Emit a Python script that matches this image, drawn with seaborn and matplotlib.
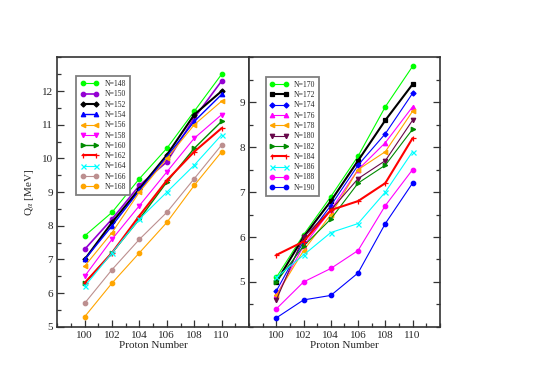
import numpy as np
import pandas as pd
import matplotlib
matplotlib.use('Agg')
import matplotlib.pyplot as plt
from matplotlib.ticker import MultipleLocator
import seaborn as sns

# proton numbers on the x axis
protons = [100, 102, 104, 106, 108, 110]

# left panel: N = 148 ... 168
left_labels = ['N=148', 'N=150', 'N=152', 'N=154', 'N=156', 'N=158',
               'N=160', 'N=162', 'N=164', 'N=166', 'N=168']
q148 = [7.7, 8.4, 9.4, 10.3, 11.4, 12.5]
q150 = [7.3, 8.2, 9.2, 9.9, 11.2, 12.3]
q152 = [7.0, 8.1, 9.1, 10.1, 11.3, 12.0]
q154 = [7.0, 8.0, 9.05, 10.05, 11.1, 11.9]
q156 = [6.8, 7.8, 9.0, 10.0, 11.0, 11.7]
q158 = [6.5, 7.6, 8.6, 9.6, 10.6, 11.3]
q160 = [6.3, 7.2, 8.2, 9.3, 10.3, 11.1]
q162 = [6.3, 7.2, 8.3, 9.35, 10.2, 10.9]
q164 = [6.2, 7.2, 8.2, 9.0, 9.8, 10.7]
q166 = [5.7, 6.7, 7.6, 8.4, 9.4, 10.4]
q168 = [5.3, 6.3, 7.2, 8.1, 9.2, 10.2]
left_values = [q148, q150, q152, q154, q156, q158, q160, q162, q164, q166, q168]

# right panel: N = 170 ... 190
right_labels = ['N=170', 'N=172', 'N=174', 'N=176', 'N=178', 'N=180',
                'N=182', 'N=184', 'N=186', 'N=188', 'N=190']
q170 = [5.1, 6.05, 6.9, 7.8, 8.9, 9.8]
q172 = [5.0, 6.0, 6.8, 7.7, 8.6, 9.4]
q174 = [4.8, 5.9, 6.7, 7.6, 8.3, 9.2]
q176 = [4.7, 5.8, 6.6, 7.5, 8.1, 8.9]
q178 = [4.7, 5.7, 6.5, 7.5, 7.9, 8.8]
q180 = [4.6, 6.0, 6.6, 7.3, 7.7, 8.6]
q182 = [5.0, 5.8, 6.4, 7.2, 7.6, 8.4]
q184 = [5.6, 5.9, 6.6, 6.8, 7.2, 8.2]
q186 = [5.1, 5.6, 6.1, 6.3, 7.0, 7.9]
q188 = [4.4, 5.0, 5.3, 5.7, 6.7, 7.5]
q190 = [4.2, 4.6, 4.7, 5.2, 6.3, 7.2]
right_values = [q170, q172, q174, q176, q178, q180, q182, q184, q186, q188, q190]

# styles (xmgrace-like)
left_colors = ['#00ff00', '#9400d3', '#000000', '#0000ff', '#ffa500', '#ff00ff',
               '#008b00', '#ff0000', '#00ffff', '#bc8f8f', '#ffa500']
left_markers = ['o', 'o', 'D', '^', '<', 'v', '>', '+', 'x', 'o', 'o']
left_widths = [0.8, 1.2, 1.5, 1.0, 0.8, 0.8, 1.0, 1.5, 0.8, 0.8, 0.8]

right_colors = ['#00ff00', '#000000', '#0000ff', '#ff00ff', '#ffa500', '#67074a',
                '#008b00', '#ff0000', '#00ffff', '#ff00ff', '#0000ff']
right_markers = ['o', 's', 'D', '^', '<', 'v', '>', '+', 'x', 'o', 'o']
right_widths = [0.8, 1.5, 0.8, 0.8, 0.8, 0.8, 0.8, 1.5, 0.8, 0.8, 0.8]

sns.set_style('ticks')
plt.rcParams['font.family'] = ['Liberation Serif', 'DejaVu Serif']
plt.rcParams['mathtext.fontset'] = 'stix'

fig = plt.figure(figsize=(5.45, 3.85), dpi=100)
ax1 = fig.add_axes([0.105, 0.151, 0.352, 0.700])
ax2 = fig.add_axes([0.457, 0.151, 0.350, 0.700])


def draw_panel(ax, labels, values, colors, markers, widths):
    for lab, vals, c, m, w in zip(labels, values, colors, markers, widths):
        ms = 3.2
        if m in ('+', 'x'):
            ms = 3.6
        if m == 'D':
            ms = 2.6
        sns.lineplot(x=protons, y=vals, ax=ax, color=c, marker=m, label=lab,
                     linewidth=w, markersize=ms, markeredgecolor=c,
                     markeredgewidth=0.9, markerfacecolor=c)
    leg = ax.legend(numpoints=2, fontsize=5.5, frameon=True, fancybox=False,
                    edgecolor='#7f7f7f', framealpha=1, loc='upper left',
                    handlelength=2.4, handletextpad=0.8, labelspacing=0.3,
                    borderpad=0.5, borderaxespad=0)
    leg.get_frame().set_linewidth(1.3)
    return leg


draw_panel(ax1, left_labels, left_values, left_colors, left_markers, left_widths)
ax1.get_legend().set_bbox_to_anchor((0.10, 0.93))
draw_panel(ax2, right_labels, right_values, right_colors, right_markers, right_widths)
ax2.get_legend().set_bbox_to_anchor((0.087, 0.927))

for ax in (ax1, ax2):
    ax.set_xlim(98, 112)
    ax.set_xticks([100, 102, 104, 106, 108, 110])
    ax.xaxis.set_minor_locator(MultipleLocator(1))
    ax.yaxis.set_minor_locator(MultipleLocator(0.5))
    ax.set_xlabel('Proton Number', fontsize=8, labelpad=1)
    for s in ax.spines.values():
        s.set_color('#333333')
        s.set_linewidth(1.2)
    ax.tick_params(which='both', direction='in', labelsize=8, color='#333333', width=0.9)
    ax.tick_params(which='major', length=5, pad=3)
    ax.tick_params(which='minor', length=3)

ax1.set_ylim(5, 13)
ax1.set_yticks([5, 6, 7, 8, 9, 10, 11, 12])
ax1.set_ylabel(r'Q$_\alpha$ [MeV]', fontsize=8)
ax1.tick_params(axis='y', which='both', left=True, right=False)

ax2.set_ylim(4, 10)
ax2.set_yticks([5, 6, 7, 8, 9])
ax2.set_ylabel('')
ax2.tick_params(axis='y', which='both', left=True, right=True, labelleft=True)
ax2.set_zorder(3)

fig.savefig('out.png', dpi=100)
